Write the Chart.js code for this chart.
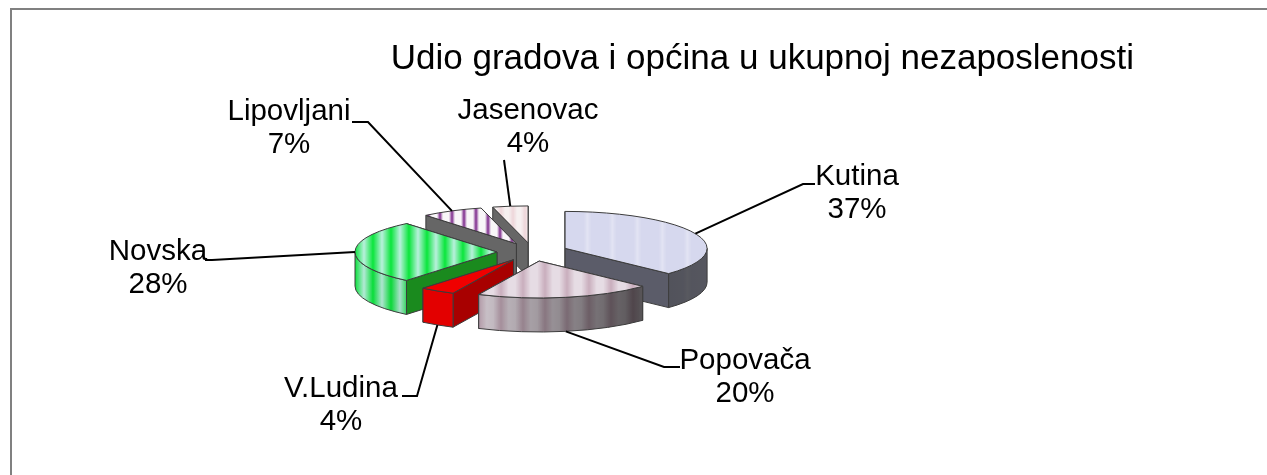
<!DOCTYPE html>
<html>
<head>
<meta charset="utf-8">
<title>Udio gradova i općina</title>
<script src="https://cdn.jsdelivr.net/npm/chart.js@4"></script>
<style>
  html, body { margin: 0; padding: 0; background: #fff; }
  #wrap { position: relative; width: 1267px; height: 475px; }
  canvas { display: block; }
</style>
</head>
<body>
<div id="wrap"><canvas id="pie-chart" width="1267" height="475"></canvas></div>
<script>
const titleText = 'Udio gradova i općina u ukupnoj nezaposlenosti';
const categories = ['Kutina', 'Popovača', 'V.Ludina', 'Novska', 'Lipovljani', 'Jasenovac'];
const shares = [37, 20, 4, 28, 7, 4];

// top face stripes: base colour, stripe colour, period, phase, stripe width (0-1)
const stripes = [
  ['#d6d8ee', '#e2e3f3', 25, 0, 0.3],
  ['#e6dce4', '#c9aebd', 22, 6, 0.7],
  ['#f00000', '#f00000', 10, 0, 1],
  ['#b8f0dc', '#0ae63c', 18, 4, 1],
  ['#f8f6f8', '#7d2a8c', 12, 2, 0.5],
  ['#f6f0f0', '#eed6da', 12, 3, 0.7]
];
const cutColors = ['#5b5c69', '#5f5357', '#a80000', '#1a8a1e', '#666666', '#666666'];

// where each callout goes: elbow points, then text centre
const callouts = [
  { elbow: [[803, 184], [815, 184]], text: [857, 177] },
  { elbow: [[664, 367], [680, 367]], text: [745, 361] },
  { elbow: [[417, 396], [402, 396]], text: [341, 389] },
  { elbow: [[212, 260], [205, 260]], text: [158, 252] },
  { elbow: [[368, 122], [352, 122]], text: [289, 112] },
  { elbow: [[504, 160]], text: [528, 111] }
];

const pieX = 532.5, pieY = 252, pieRadius = 142;
const squash = 0.26, depth = 34, explode = 35.5;
const labelFont = '29.5px "Liberation Sans", Arial, sans-serif';

function stripePattern(ctx, def) {
  const c = document.createElement('canvas');
  const w = Math.round(def[2]);
  c.width = w; c.height = 1;
  const g = c.getContext('2d');
  const grad = g.createLinearGradient(0, 0, w, 0);
  const half = def[4] / 2;
  grad.addColorStop(0, def[0]);
  grad.addColorStop(0.5 - half, def[0]);
  grad.addColorStop(0.5, def[1]);
  grad.addColorStop(0.5 + half, def[0]);
  grad.addColorStop(1, def[0]);
  g.fillStyle = grad;
  g.fillRect(0, 0, w, 1);
  const p = ctx.createPattern(c, 'repeat');
  p.setTransform(new DOMMatrix().translate(def[3], 0));
  return p;
}

// point on the squashed circle of one slice
function rimPoint(s, a) {
  return [s.cx + Math.cos(a) * s.r, s.cy + Math.sin(a) * s.r * squash];
}

function sliceInfo(arc) {
  const mid = (arc.startAngle + arc.endAngle) / 2;
  return {
    start: arc.startAngle, end: arc.endAngle, mid: mid, r: arc.outerRadius,
    cx: pieX + Math.cos(mid) * explode,
    cy: pieY + Math.sin(mid) * explode * squash
  };
}

function arcPath(ctx, s, from, to, dy, reverse) {
  ctx.save();
  ctx.translate(s.cx, s.cy + dy);
  ctx.scale(1, squash);
  ctx.arc(0, 0, s.r, from, to, reverse);
  ctx.restore();
}

function drawCut(ctx, s, a, color, edge, lw) {
  const p = rimPoint(s, a);
  ctx.beginPath();
  ctx.moveTo(s.cx, s.cy);
  ctx.lineTo(p[0], p[1]);
  ctx.lineTo(p[0], p[1] + depth);
  ctx.lineTo(s.cx, s.cy + depth);
  ctx.closePath();
  ctx.fillStyle = color;
  ctx.fill();
  ctx.strokeStyle = edge;
  ctx.lineWidth = lw;
  ctx.stroke();
}

function drawSlice(ctx, arc, index) {
  const s = sliceInfo(arc);
  const o = arc.options;

  // the two cut faces, the one further back first
  const cuts = [s.start, s.end].sort((a, b) => Math.sin(a) - Math.sin(b));
  cuts.forEach(a => drawCut(ctx, s, a, cutColors[index], o.borderColor, o.borderWidth));

  // curved wall, only the part facing the viewer
  const from = Math.max(s.start, 0), to = Math.min(s.end, Math.PI);
  if (to > from) {
    const pa = rimPoint(s, from), pb = rimPoint(s, to);
    ctx.beginPath();
    arcPath(ctx, s, from, to, 0, false);
    ctx.lineTo(pb[0], pb[1] + depth);
    arcPath(ctx, s, to, from, depth, true);
    ctx.lineTo(pa[0], pa[1]);
    ctx.closePath();
    ctx.fillStyle = o.backgroundColor;
    ctx.fill();
    if (index !== 2) {
      const shade = ctx.createLinearGradient(s.cx - s.r, 0, s.cx + s.r, 0);
      shade.addColorStop(0, 'rgba(0,0,0,0.02)');
      shade.addColorStop(0.3, 'rgba(0,0,0,0.12)');
      shade.addColorStop(0.85, 'rgba(0,0,0,0.62)');
      shade.addColorStop(1, 'rgba(0,0,0,0.6)');
      ctx.fillStyle = shade;
    } else {
      ctx.fillStyle = 'rgba(40,0,0,0.06)';
    }
    ctx.fill();
    ctx.strokeStyle = o.borderColor;
    ctx.lineWidth = o.borderWidth;
    ctx.stroke();
  }

  // top face
  ctx.beginPath();
  ctx.moveTo(s.cx, s.cy);
  arcPath(ctx, s, s.start, s.end, 0, false);
  ctx.closePath();
  ctx.fillStyle = o.backgroundColor;
  ctx.fill();
  ctx.strokeStyle = o.borderColor;
  ctx.lineWidth = o.borderWidth;
  ctx.stroke();
}

const pie3d = {
  id: 'pie3d',
  beforeDraw(chart) {
    // frame, only top and left are in the crop
    const ctx = chart.ctx;
    ctx.save();
    ctx.strokeStyle = '#808080';
    ctx.lineWidth = 2;
    ctx.beginPath();
    ctx.moveTo(11, 475);
    ctx.lineTo(11, 9);
    ctx.lineTo(1267, 9);
    ctx.stroke();
    ctx.restore();
  },
  beforeDatasetDraw(chart, args) {
    const ctx = chart.ctx;
    const arcs = args.meta.data;
    ctx.save();
    ctx.lineJoin = 'round';
    // back to front
    [5, 4, 0, 3, 2, 1].forEach(i => drawSlice(ctx, arcs[i], i));
    ctx.restore();
    return false;
  },
  afterDatasetsDraw(chart) {
    const ctx = chart.ctx;
    const arcs = chart.getDatasetMeta(0).data;
    ctx.save();
    arcs.forEach((arc, i) => {
      const s = sliceInfo(arc);
      const p = rimPoint(s, s.mid);
      const frontFacing = Math.sin(s.mid) > 0.1;
      ctx.beginPath();
      ctx.moveTo(p[0], p[1] + (frontFacing ? depth : 0));
      callouts[i].elbow.forEach(e => ctx.lineTo(e[0], e[1]));
      ctx.strokeStyle = '#000';
      ctx.lineWidth = 2;
      ctx.stroke();

      ctx.fillStyle = '#000';
      ctx.font = labelFont;
      ctx.textAlign = 'center';
      ctx.textBaseline = 'middle';
      const t = callouts[i].text;
      ctx.fillText(categories[i], t[0], t[1]);
      ctx.fillText(shares[i] + '%', t[0], t[1] + 33);
    });
    ctx.restore();
  }
};

const canvas = document.getElementById('pie-chart');
new Chart(canvas, {
  type: 'pie',
  data: {
    labels: categories,
    datasets: [{
      data: shares,
      backgroundColor: stripes.map(d => stripePattern(canvas.getContext('2d'), d)),
      borderColor: '#3c3c3c',
      borderWidth: 1,
      radius: pieRadius
    }]
  },
  options: {
    responsive: false,
    animation: false,
    rotation: 0,
    layout: { padding: { top: 38, right: 133, left: 0, bottom: 0 } },
    plugins: {
      legend: { display: false },
      tooltip: { enabled: false },
      title: {
        display: true,
        text: titleText,
        align: 'end',
        color: '#000',
        font: { family: '"Liberation Sans", Arial, sans-serif', size: 35, weight: 'normal' },
        padding: 0
      }
    }
  },
  plugins: [pie3d]
});
</script>
</body>
</html>
